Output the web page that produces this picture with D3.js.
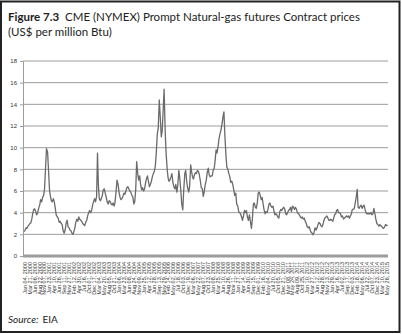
<!DOCTYPE html>
<html><head><meta charset="utf-8">
<script src="https://cdn.jsdelivr.net/npm/d3@7"></script>
<style>html,body{margin:0;padding:0;background:#fff}svg{display:block}</style>
</head><body><svg id="c" width="402" height="334"></svg>
<script>
// Semi-monthly prompt futures prices (US$/million Btu), 1st and 15th of each month
const p2000=[2.25,2.35,2.6,2.55,2.75,2.85,3.0,3.05,3.4,3.9,4.3,4.35,4.1,3.8,4.0,4.4,4.7,5.2,5.0,5.4,5.6,6.2,8.2,9.9];
const p2001=[9.6,8.0,6.0,5.5,5.1,5.0,5.3,5.0,4.4,3.8,3.6,3.5,3.1,3.2,3.0,2.9,2.3,2.1,2.4,3.0,3.3,2.7,2.6,2.4];
const p2002=[2.3,2.1,2.0,2.3,2.6,3.1,3.4,3.2,3.6,3.4,3.3,3.2,3.0,2.9,2.8,3.1,3.3,3.7,4.0,4.2,4.0,4.2,4.7,5.0];
const p2003=[5.3,5.0,5.5,9.5,6.5,5.3,5.1,5.3,5.6,6.1,6.2,5.8,5.4,5.0,4.8,5.1,5.0,4.8,4.7,4.9,4.6,5.0,6.0,7.0];
const p2004=[6.6,5.9,5.4,5.2,5.3,5.5,5.8,5.7,6.0,6.3,6.4,6.2,6.0,5.9,5.6,5.5,4.8,5.0,6.2,8.7,7.6,7.0,7.4,6.6];
const p2005=[6.1,6.3,6.0,6.2,6.7,7.1,7.4,6.9,6.4,6.6,6.9,7.3,7.6,7.8,8.3,9.5,11.3,11.8,14.4,13.0,11.0,11.5,13.5,15.4];
const p2006=[11.5,9.5,8.0,7.2,6.9,7.0,7.3,7.6,6.8,6.4,6.2,6.6,5.9,6.5,7.9,7.2,6.0,4.8,4.25,6.0,7.6,7.9,6.9,6.3];
const p2007=[5.9,6.4,8.4,7.8,7.3,7.1,7.5,7.7,7.6,7.9,7.8,7.5,6.9,6.3,6.2,5.5,6.0,6.6,7.0,7.7,8.1,7.5,7.3,7.4];
const p2008=[7.4,7.9,8.1,8.8,9.8,9.5,10.1,10.8,11.3,11.6,12.2,12.8,13.3,11.2,9.3,8.2,8.0,7.6,7.3,6.8,6.9,6.6,6.1,5.6];
const p2009=[5.8,4.8,4.6,4.1,4.0,3.9,3.6,3.3,3.7,4.2,4.0,4.2,3.6,3.3,3.8,3.2,2.55,3.4,4.8,4.9,4.5,4.4,4.9,5.8];
const p2010=[5.9,5.6,5.2,5.4,4.8,4.3,3.9,4.1,4.0,4.3,4.8,4.9,4.6,4.5,4.6,4.2,3.8,3.9,3.8,3.6,3.5,4.1,4.3,4.2];
const p2011=[4.4,4.5,4.3,3.9,3.8,4.0,4.2,4.3,4.5,4.1,4.6,4.5,4.3,4.5,4.3,4.0,3.9,3.8,3.6,3.5,3.6,3.4,3.5,3.2];
const p2012=[3.0,2.7,2.6,2.7,2.4,2.2,2.1,1.95,2.2,2.6,2.4,2.6,2.9,3.1,3.0,2.8,2.7,2.9,3.3,3.5,3.6,3.7,3.5,3.3];
const p2013=[3.3,3.4,3.3,3.2,3.5,3.8,3.9,4.2,4.3,4.0,4.0,3.9,3.6,3.7,3.4,3.5,3.6,3.7,3.6,3.7,3.5,3.7,3.9,4.3];
const p2014=[4.3,4.4,5.0,5.5,6.15,4.5,4.4,4.6,4.7,4.4,4.6,4.7,4.3,4.0,3.9,3.9,3.9,3.9,4.0,3.8,3.9,4.4,3.9,3.4];
const p2015=[3.0,2.9,2.75,2.9,2.8,2.75,2.6,2.55,2.7,2.9,2.8,2.85];
const yearSeries=[p2000,p2001,p2002,p2003,p2004,p2005,p2006,p2007,p2008,p2009,p2010,p2011,p2012,p2013,p2014,p2015];
const firstYear=2000;

const yTicks=[0,2,4,6,8,10,12,14,16,18];
const xTickLabels=["Jan 04, 2000","Mar 21, 2000","Jun 06, 2000","Aug 22, 2000","Nov 07, 2000","Jan 23, 2001","Apr 10, 2001","Jun 26, 2001","Sep 11, 2001","Nov 27, 2001","Feb 12, 2002","Apr 30, 2002","Jul 16, 2002","Oct 01, 2002","Dec 17, 2002","Mar 04, 2003","May 20, 2003","Aug 05, 2003","Oct 21, 2003","Jan 06, 2004","Mar 23, 2004","Jun 08, 2004","Aug 24, 2004","Nov 09, 2004","Jan 25, 2005","Apr 12, 2005","Jun 28, 2005","Sep 13, 2005","Nov 29, 2005","Feb 14, 2006","May 02, 2006","Jul 18, 2006","Oct 03, 2006","Dec 19, 2006","Mar 06, 2007","May 22, 2007","Aug 07, 2007","Oct 23, 2007","Jan 08, 2008","Mar 25, 2008","Jun 10, 2008","Aug 26, 2008","Nov 11, 2008","Jan 27, 2009","Apr 14, 2009","Jun 30, 2009","Sep 15, 2009","Dec 01, 2009","Feb 16, 2010","May 04, 2010","Jul 20, 2010","Oct 05, 2010","Dec 21, 2010","Mar 08, 2011","May 24, 2011","Aug 09, 2011","Oct 25, 2011","Jan 10, 2012","Mar 27, 2012","Jun 12, 2012","Aug 28, 2012","Nov 13, 2012","Jan 29, 2013","Apr 16, 2013","Jul 02, 2013","Sep 17, 2013","Dec 03, 2013","Feb 18, 2014","May 06, 2014","Jul 22, 2014","Oct 07, 2014","Dec 23, 2014","Mar 10, 2015","May 26, 2015"];

const titleBold="Figure 7.3";
const titleRest="CME (NYMEX) Prompt Natural-gas futures Contract prices";
const titleLine2="(US$ per million Btu)";
const sourceLabel="Source:";
const sourceName="EIA";

const parse=d3.timeParse("%b %d, %Y");
const fmt=d3.timeFormat("%b %d, %Y");
const points=[];
yearSeries.forEach((arr,yi)=>arr.forEach((v,k)=>points.push({date:new Date(firstYear+yi,Math.floor(k/2),k%2?15:1),value:v})));

const svg=d3.select("#c");
const L=23,R=388,T=61,B=256;
const x=d3.scaleTime().domain([new Date(2000,0,1),new Date(2015,5,22)]).range([L+1,R]);
const y=d3.scaleLinear().domain([0,18]).range([B,T]);

// frame
svg.append("rect").attr("x",1).attr("y",1.5).attr("width",398.5).attr("height",330.5)
  .attr("fill","none").attr("stroke","#222").attr("stroke-width",2);

// title
const t1=svg.append("text").attr("x",8).attr("y",21).attr("font-family","Lato, 'Open Sans', sans-serif").attr("font-size",11.5).attr("fill","#222");
t1.append("tspan").attr("font-weight","bold").text(titleBold);
t1.append("tspan").attr("dx",6).text(titleRest);
svg.append("text").attr("x",8).attr("y",36).attr("font-family","Lato, 'Open Sans', sans-serif").attr("font-size",11.5).attr("fill","#222").text(titleLine2);

// gridlines
svg.append("g").selectAll("line").data(yTicks.filter(d=>d>0)).join("line")
  .attr("x1",L).attr("x2",R).attr("y1",d=>y(d)).attr("y2",d=>y(d))
  .attr("stroke","#9c9c9c").attr("stroke-width",1);

// y axis
const ya=svg.append("g").attr("transform",`translate(${L},0)`)
  .call(d3.axisLeft(y).tickValues(yTicks).tickSizeInner(3).tickSizeOuter(0).tickPadding(3));
ya.select(".domain").attr("stroke","#9c9c9c");
ya.selectAll(".tick line").attr("stroke","#9c9c9c");
ya.selectAll("text").attr("font-family","'Liberation Sans', Arial, sans-serif").attr("font-size",6).attr("fill","#333");

// line
svg.append("path").datum(points)
  .attr("d",d3.line().x(d=>x(d.date)).y(d=>y(d.value)))
  .attr("fill","none").attr("stroke","#6a6a6a").attr("stroke-width",1.3).attr("stroke-linejoin","round");

// x axis
const xa=svg.append("g").attr("transform",`translate(0,${B})`)
  .call(d3.axisBottom(x).tickValues(xTickLabels.map(parse)).tickFormat(fmt).tickSize(0).tickSizeOuter(0));
xa.select(".domain").attr("stroke","#9c9c9c").attr("stroke-width",3).attr("d",`M${L},0H${R}`);
xa.selectAll("text").attr("font-family","'Liberation Sans', Arial, sans-serif").attr("font-size",5.5).attr("fill","#333")
  .attr("text-anchor","end").attr("transform","rotate(-90)").attr("x",-6).attr("y",0).attr("dy","0.35em");

// source
const s=svg.append("text").attr("x",8).attr("y",323).attr("font-family","Lato, 'Open Sans', sans-serif").attr("font-size",10).attr("fill","#222");
s.append("tspan").attr("font-style","italic").text(sourceLabel);
s.append("tspan").attr("dx",4).text(sourceName);
</script></body></html>
